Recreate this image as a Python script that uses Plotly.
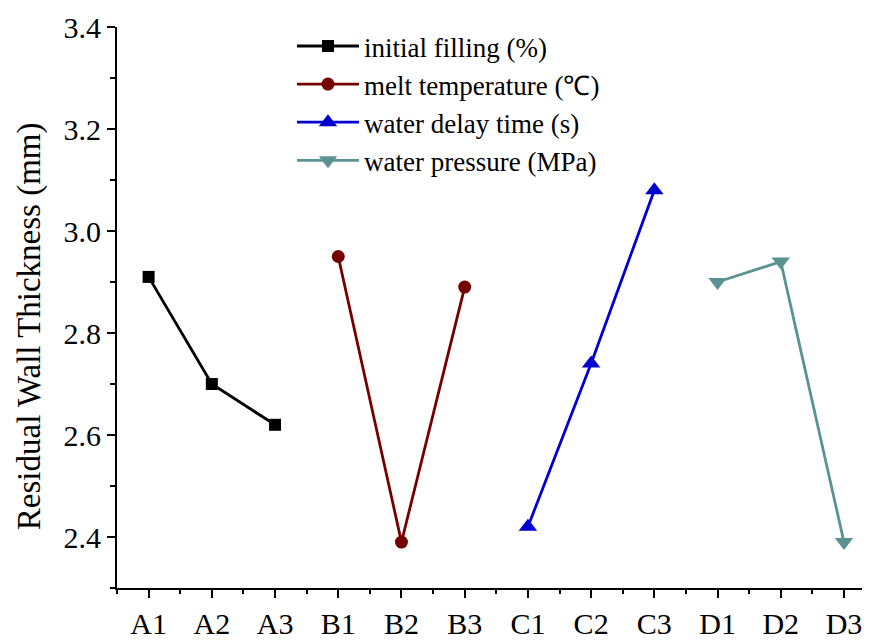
import plotly.graph_objects as go

categories = ["A1", "A2", "A3", "B1", "B2", "B3", "C1", "C2", "C3", "D1", "D2", "D3"]
series_names = ["initial filling (%)", "melt temperature (\u2103)", "water delay time (s)", "water pressure (MPa)"]
initial_filling = [2.91, 2.70, 2.62]
melt_temperature = [2.95, 2.39, 2.89]
water_delay_time = [2.42, 2.74, 3.08]
water_pressure = [2.90, 2.94, 2.39]
y_title = "Residual Wall Thickness (mm)"

values = [initial_filling, melt_temperature, water_delay_time, water_pressure]
colors = ["#000000", "#750000", "#0000d0", "#5b9393"]
symbols = ["square", "circle", "triangle-up", "triangle-down"]
sizes = [12, 13, 16, 16]

fig = go.Figure()
for i, (name, vals) in enumerate(zip(series_names, values)):
    xs = [categories.index(c) for c in categories[i * 3:(i + 1) * 3]]
    fig.add_trace(go.Scatter(
        x=xs, y=vals, name=name, mode="lines+markers",
        line=dict(color=colors[i], width=2.8),
        marker=dict(symbol=symbols[i], size=sizes[i], color=colors[i]),
    ))

font = "Liberation Serif, Times New Roman, serif"
fig.update_layout(
    width=862, height=634,
    margin=dict(l=109, r=2, t=19, b=50),
    plot_bgcolor="white", paper_bgcolor="white",
    font=dict(family=font, color="black"),
    showlegend=True,
    legend=dict(x=0.233, y=1.009, xanchor="left", yanchor="top",
                font=dict(size=27, family=font), bgcolor="rgba(0,0,0,0)",
                tracegroupgap=0, itemwidth=62),
)
fig.add_annotation(
    text=y_title, textangle=-90, xref="paper", yref="paper",
    x=-0.117, y=0.467, xanchor="center", yanchor="middle", showarrow=False,
    font=dict(size=33, family=font, color="black"),
)
fig.update_xaxes(
    range=[-0.5, 11.38], tickmode="array",
    tickvals=list(range(len(categories))), ticktext=categories,
    showline=True, linecolor="black", linewidth=2,
    ticks="outside", ticklen=8, tickwidth=2, tickcolor="black",
    minor=dict(tickvals=[i + 0.5 for i in range(-1, len(categories))], ticks="outside", ticklen=4, tickwidth=2, tickcolor="black"),
    showgrid=False, zeroline=False,
    tickfont=dict(size=30, family=font),
)
fig.update_yaxes(
    range=[2.3, 3.4], tickmode="array",
    tickvals=[2.4, 2.6, 2.8, 3.0, 3.2, 3.4],
    ticktext=["2.4", "2.6", "2.8", "3.0", "3.2", "3.4"],
    showline=True, linecolor="black", linewidth=2,
    ticks="outside", ticklen=8, tickwidth=2, tickcolor="black",
    minor=dict(tickvals=[2.3, 2.5, 2.7, 2.9, 3.1, 3.3], ticks="outside", ticklen=5, tickwidth=2, tickcolor="black"),
    showgrid=False, zeroline=False,
    tickfont=dict(size=30, family=font),
)

fig.write_html("out.html")
